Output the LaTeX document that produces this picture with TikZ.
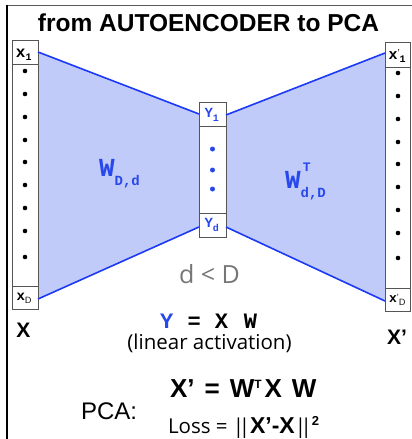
\documentclass[tikz,border=0pt]{standalone}
\usepackage{fontspec}
\setmainfont{Liberation Sans}
\setmonofont{Liberation Mono}
\newfontfamily\opensans{Open Sans}
\usetikzlibrary{calc,backgrounds}
\definecolor{bfill}{RGB}{192,203,250}
\definecolor{bline}{RGB}{28,58,245}
\definecolor{btext}{RGB}{40,72,235}
\definecolor{colline}{RGB}{85,85,85}
\definecolor{dgrey}{RGB}{118,118,118}
\newcommand{\fs}[1]{\fontsize{#1}{#1}\selectfont}
\newcommand{\mono}{\ttfamily\bfseries}
\newcommand{\bars}{|\kern-5.5pt|}
\tikzset{
  col/.style={draw=colline, line width=1pt, fill=white, inner sep=0pt, outer sep=0pt},
  divider/.style={draw=colline, line width=1pt},
  edge/.style={draw=bline, line width=1.6pt},
  txt/.style={inner sep=0pt, outer sep=0pt, anchor=base west},
  ctxt/.style={inner sep=0pt, outer sep=0pt, anchor=base},
  celllab/.style={inner sep=0pt, outer sep=0pt, anchor=base west, font=\mono\fs{16}},
}
\begin{document}
\begin{tikzpicture}[x=1pt,y=-1pt]
\useasboundingbox (0,0) rectangle (412,439);
% frame
\draw[gray!70!black, line width=0.9pt] (7,5) -- (412,5);
\draw[black, line width=1.5pt] (7,4.5) -- (7,439);
% title
\node[ctxt, font=\bfseries\fs{24.5}] (title) at (208.5,31) {from AUTOENCODER to PCA};
% columns
\node[col, minimum width=26pt, minimum height=269pt] (L) at (25,174.5) {};
\node[col, minimum width=27pt, minimum height=135pt] (M) at (212.5,169.5) {};
\node[col, minimum width=25pt, minimum height=269pt] (R) at (397.5,176.5) {};
% trapezoid fills
\begin{scope}[on background layer]
\fill[bfill] ($(L.north east)+(0,12)$) -- ($(M.north west)+(0,12)$) -- ($(M.south west)+(0,-10)$) -- ($(L.south east)+(0,-10)$) -- cycle;
\fill[bfill] ($(M.north east)+(0,13)$) -- ($(R.north west)+(0,11)$) -- ($(R.south west)+(0,-10)$) -- ($(M.south east)+(0,-10)$) -- cycle;
\end{scope}
\draw[edge] ($(L.north east)+(0,12)$) -- ($(M.north west)+(0,12)$);
\draw[edge] ($(L.south east)+(0,-10)$) -- ($(M.south west)+(0,-10)$);
\draw[edge] ($(M.north east)+(0,13)$) -- ($(R.north west)+(0,11)$);
\draw[edge] ($(M.south east)+(0,-10)$) -- ($(R.south west)+(0,-10)$);
% dividers
\draw[divider] ($(L.north west)+(0,24)$) -- ($(L.north east)+(0,24)$);
\draw[divider] ($(L.south west)+(0,-23)$) -- ($(L.south east)+(0,-23)$);
\draw[divider] ($(M.north west)+(0,24)$) -- ($(M.north east)+(0,24)$);
\draw[divider] ($(M.south west)+(0,-24)$) -- ($(M.south east)+(0,-24)$);
\draw[divider] ($(R.north west)+(0,25)$) -- ($(R.north east)+(0,25)$);
\draw[divider] ($(R.south west)+(0,-23)$) -- ($(R.south east)+(0,-23)$);
% dots
\foreach \y in {71,94,117,140,162,185,208,231,257} \fill (25,\y) circle (2.3);
\foreach \y in {73,96,119,142,164,187,210,233,258} \fill (398,\y) circle (2.3);
\foreach \y in {149,170,189} \fill[btext] (212.5,\y) circle (2.5);
% cell labels
\node[celllab] (x1) at (16,57) {x\raisebox{-3pt}{\fs{10}1}};
\node[celllab, font=\mono\fs{14}] (xD) at (16.5,300) {x\raisebox{-3pt}{\fs{9}\normalfont\sffamily D}};
\node[celllab, font=\mono\fs{15}] (x1p) at (388.5,59) {x\raisebox{2pt}{\normalfont\fs{10}’}\raisebox{-3pt}{\fs{10}1}};
\node[celllab, font=\mono\fs{13}] (xDp) at (389,302) {x\raisebox{2pt}{\normalfont\fs{9}’}\raisebox{-3pt}{\fs{9}\normalfont\sffamily D}};
\node[celllab, text=btext, font=\mono\fs{14}] (y1) at (204.5,117) {Y\raisebox{-4pt}{\fs{10}1}};
\node[celllab, text=btext, font=\mono\fs{14}] (yd) at (204.5,227) {Y\raisebox{-4pt}{\fs{10}d}};
% weight labels
\node[txt, text=btext, font=\mono\fs{26}] (W1) at (99,176) {W\raisebox{-9pt}{\fs{14}D,d}};
\node[txt, text=btext, font=\mono\fs{26}] (W2) at (285,188) {W\makebox[0pt][l]{\raisebox{17pt}{\fs{13}\,T}}\raisebox{-9pt}{\fs{14}d,D}};
% d < D
\node[txt, text=dgrey, font=\opensans\fs{25}] (dD) at (179,283) {d < D};
% Y = X W
\node[txt, font=\mono\fs{22}] (eq1) at (160,328) {\makebox[27.5pt][l]{\textcolor{btext}{Y}}\makebox[27.5pt][l]{=}\makebox[29pt][l]{X}W};
\node[ctxt, font=\opensans\fs{20.5}] (lin) at (209.5,349) {(linear activation)};
% X and X'
\node[ctxt, font=\bfseries\fs{21}] (X) at (23.5,337) {X};
\node[ctxt, font=\bfseries\fs{21}] (Xp) at (397,344) {X’};
% PCA
\node[txt, font=\fs{24}] (pca) at (81,419) {PCA:};
\node[txt, font=\bfseries\fs{26}] (eq2) at (170,397) {X’\hspace{10pt}=\hspace{10pt}W\raisebox{8.5pt}{\fs{12}T}\hspace{3pt}X\hspace{10pt}W};
\node[txt, font=\opensans\fs{20.5}] (loss) at (168,433) {Loss = \bars{\rmfamily\bfseries\fs{23}X’-X}\bars\raisebox{8pt}{\rmfamily\bfseries\fs{13}2}};
\end{tikzpicture}
\end{document}
